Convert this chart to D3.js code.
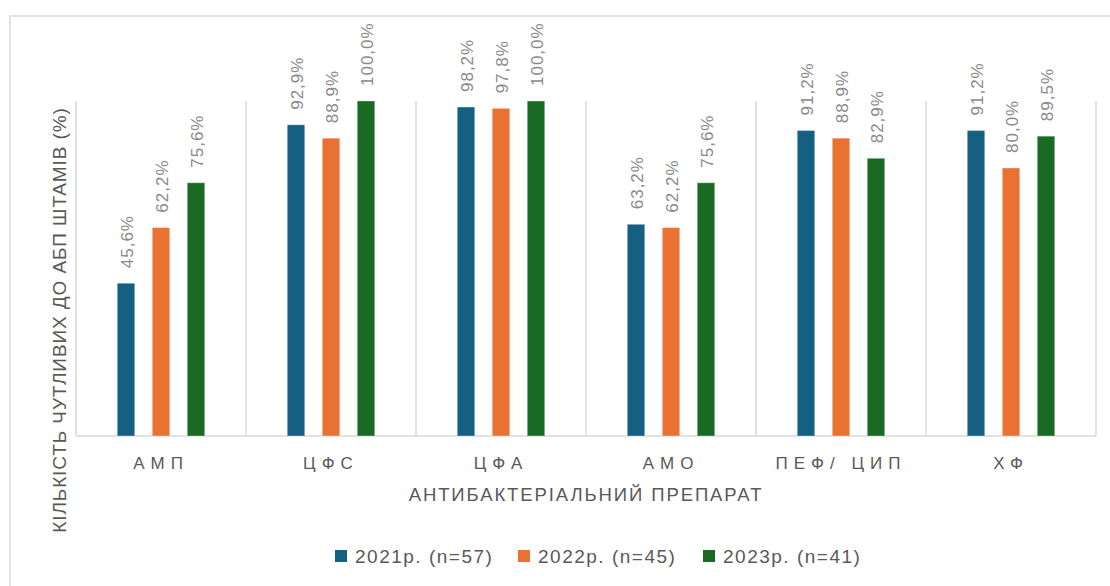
<!doctype html>
<html>
<head>
<meta charset="utf-8"/>
<title>Чутливість штамів до АБП</title>
<script src="https://d3js.org/d3.v7.min.js"></script>
<style>
body { margin: 0; background: #fff; }
text { font-family: "Liberation Sans", Arial, sans-serif; }
</style>
</head>
<body>
<script type="text/javascript">
// дані з діаграми
var categories = ["АМП", "ЦФС", "ЦФА", "АМО", "ПЕФ/ ЦИП", "ХФ"];
var seriesNames = ["2021р. (n=57)", "2022р. (n=45)", "2023р. (n=41)"];
var values2021 = [45.6, 92.9, 98.2, 63.2, 91.2, 91.2];
var values2022 = [62.2, 88.9, 97.8, 62.2, 88.9, 80.0];
var values2023 = [75.6, 100.0, 100.0, 75.6, 82.9, 89.5];
var colors = ["#156082", "#e97132", "#196b24"];

var allValues = [values2021, values2022, values2023];

var W = 1110, H = 586;
var pLeft = 76, pRight = 1096, pTop = 101, pBottom = 436;

var svg = d3.select("body")
    .append("svg")
    .attr("width", W)
    .attr("height", H);

// рамка
svg.append("rect")
    .attr("x", 10).attr("y", 16)
    .attr("width", 1200).attr("height", 700)
    .attr("fill", "none")
    .attr("stroke", "#d9d9d9")
    .attr("stroke-width", 1.5);

var x0 = d3.scaleBand().domain(categories).range([pLeft, pRight]).padding(0);
var inner = 105;
var x1 = d3.scaleBand().domain(seriesNames).range([0, inner])
    .paddingInner(0.5).paddingOuter(0.25);
var y = d3.scaleLinear().domain([0, 100]).range([pBottom, pTop]);

// вертикальні розділювачі
var seps = categories.map(function(c){ return x0(c); });
seps.push(pRight);
svg.selectAll("line.sep")
    .data(seps)
    .enter()
  .append("line")
    .attr("class", "sep")
    .attr("x1", function(d){ return d; })
    .attr("x2", function(d){ return d; })
    .attr("y1", y(100))
    .attr("y2", y(0))
    .attr("stroke", "#d9d9d9")
    .attr("stroke-width", 1.5);

svg.append("line")
    .attr("x1", pLeft).attr("x2", pRight)
    .attr("y1", y(0)).attr("y2", y(0))
    .attr("stroke", "#d9d9d9")
    .attr("stroke-width", 1.5);

var off = (x0.bandwidth() - inner) / 2;

var data = [];
categories.forEach(function(c, i){
    seriesNames.forEach(function(s, j){
        data.push({cat: c, ser: s, j: j, v: allValues[j][i]});
    });
});

var bx = function(d){ return x0(d.cat) + off + x1(d.ser); };

svg.selectAll("rect.bar")
    .data(data)
    .enter()
  .append("rect")
    .attr("class", "bar")
    .attr("x", bx)
    .attr("y", function(d){ return y(d.v); })
    .attr("width", x1.bandwidth())
    .attr("height", function(d){ return y(0) - y(d.v); })
    .attr("fill", function(d){ return colors[d.j]; })
    .attr("stroke", "rgba(255,255,255,0.35)")
    .attr("stroke-width", 1);

// підписи даних
svg.selectAll("text.lab")
    .data(data)
    .enter()
  .append("text")
    .attr("class", "lab")
    .attr("transform", function(d){
        var cx = bx(d) + x1.bandwidth() / 2 + 6.5;
        return "translate(" + cx + "," + (y(d.v) - 15) + ") rotate(-90)";
    })
    .attr("font-size", 17)
    .attr("letter-spacing", 1)
    .attr("fill", "#8a8a8a")
    .text(function(d){ return d.v.toFixed(1).replace(".", ",") + "%"; });

// категорії
svg.selectAll("text.cat")
    .data(categories)
    .enter()
  .append("text")
    .attr("class", "cat")
    .attr("x", function(d){ return x0(d) + x0.bandwidth() / 2; })
    .attr("y", 469)
    .attr("text-anchor", "middle")
    .attr("font-size", 17)
    .attr("letter-spacing", 6)
    .attr("fill", "#595959")
    .text(function(d){ return d; });

// назви осей
svg.append("text")
    .attr("x", (pLeft + pRight) / 2)
    .attr("y", 501)
    .attr("text-anchor", "middle")
    .attr("font-size", 18.5)
    .attr("letter-spacing", 1.9)
    .attr("fill", "#595959")
    .text("АНТИБАКТЕРІАЛЬНИЙ ПРЕПАРАТ");

svg.append("text")
    .attr("transform", "translate(66,320) rotate(-90)")
    .attr("text-anchor", "middle")
    .attr("font-size", 19)
    .attr("letter-spacing", 0.9)
    .attr("fill", "#595959")
    .text("КІЛЬКІСТЬ ЧУТЛИВИХ ДО АБП ШТАМІВ (%)");

// легенда
var legX = [335, 518, 703];
var leg = svg.selectAll("g.leg")
    .data(seriesNames)
    .enter()
  .append("g")
    .attr("class", "leg")
    .attr("transform", function(d, i){ return "translate(" + legX[i] + ",556)"; });

leg.append("rect")
    .attr("x", 0).attr("y", -6)
    .attr("width", 12).attr("height", 12)
    .attr("fill", function(d, i){ return colors[i]; });

leg.append("text")
    .attr("x", 20)
    .attr("y", 7)
    .attr("font-size", 19)
    .attr("letter-spacing", 1.5)
    .attr("fill", "#595959")
    .text(function(d){ return d; });
</script>
</body>
</html>
